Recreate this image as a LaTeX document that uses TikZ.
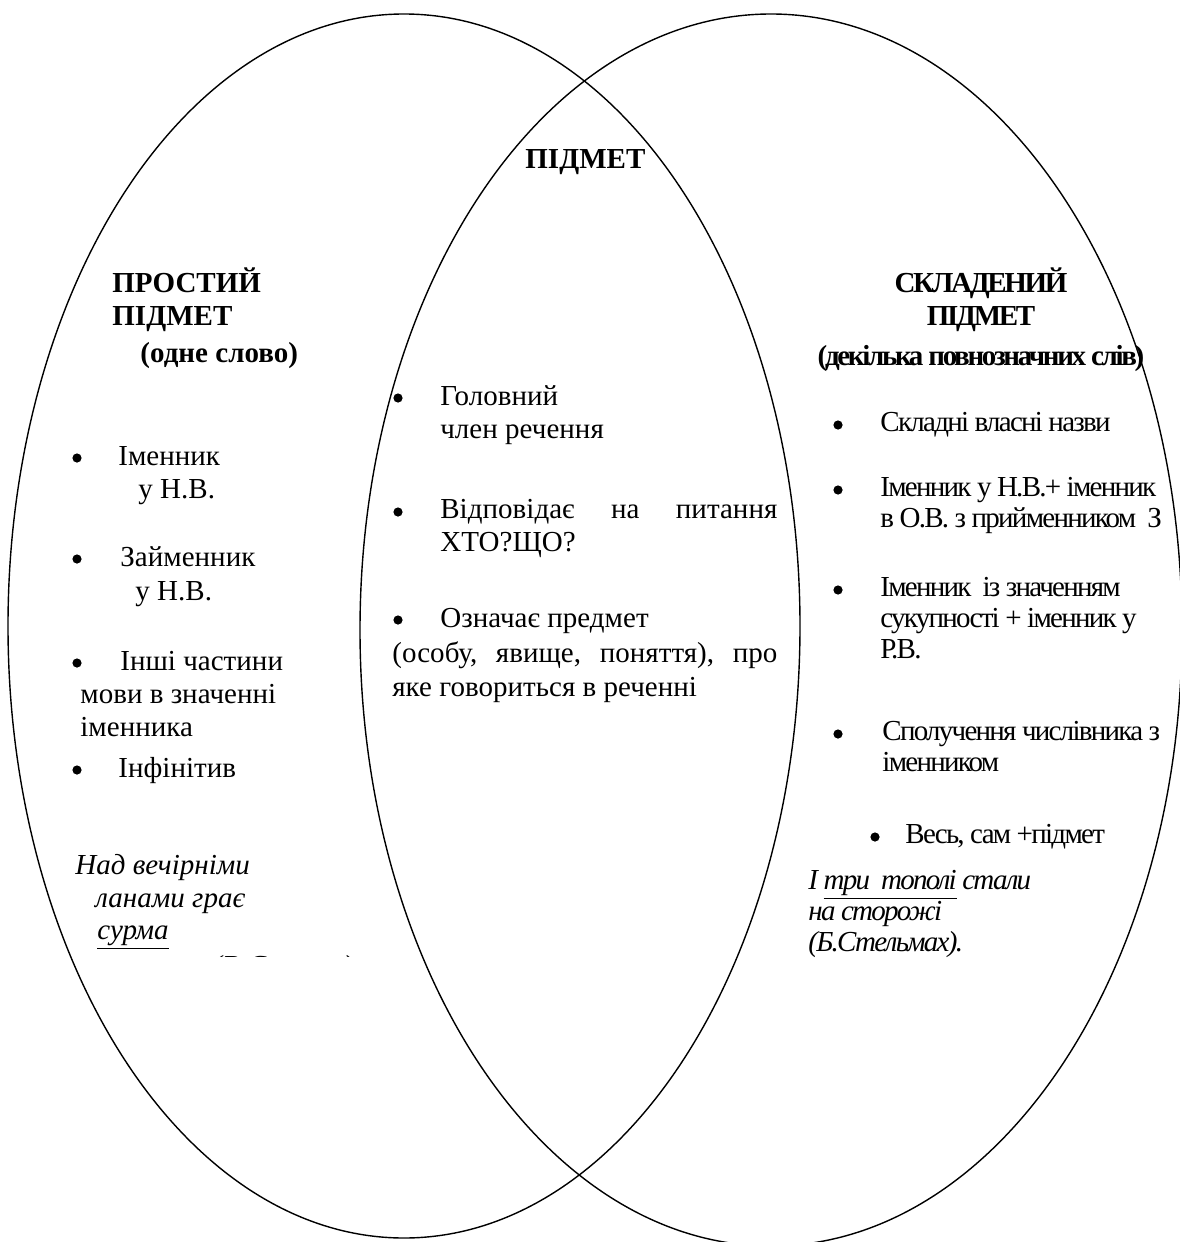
\documentclass[tikz,border=0pt]{standalone}
\usepackage{fontspec}
\setmainfont{Liberation Serif}[LetterSpace=0.1]
\newfontfamily\narrowrm[LetterSpace=-6]{Liberation Serif}
\newfontfamily\narrowbf[LetterSpace=-8]{Liberation Serif}
\usetikzlibrary{positioning,shapes.geometric}
\newcommand{\bodysize}{\fontsize{14.5}{17}\selectfont}
\tikzset{
  setoval/.style={ellipse, draw, line width=0.7pt, inner sep=0pt},
  txt/.style={anchor=base west, inner sep=0pt, font=\bodysize},
  head/.style={anchor=base west, inner sep=0pt, font=\bodysize\bfseries},
  rtxt/.style={anchor=base west, inner sep=0pt, font=\bodysize\narrowrm},
  rhead/.style={anchor=base, inner sep=0pt, font=\bodysize\narrowbf\bfseries},
  bul/.style={circle, fill, inner sep=0pt, minimum size=4.6pt},
  quote/.style={anchor=base west, inner sep=0pt, font=\bodysize\itshape},
  rquote/.style={anchor=base west, inner sep=0pt, font=\bodysize\narrowrm\itshape},
}

\begin{document}
\begin{tikzpicture}[x=0.5pt, y=-0.5pt]
  \useasboundingbox (0,0) rectangle (1179,1242);

  % the two sets
  \node[setoval, minimum width=396pt, minimum height=612pt] (simple) at (404,626) {};
  \node[setoval, minimum width=411pt, minimum height=616pt] (compound) at (771,630) {};

  % headings
  \node[head] (core) at (525,168) {ПІДМЕТ};
  \node[head] (simple1) at (112,292) {ПРОСТИЙ};
  \node[head] (simple2) at (112,325) {ПІДМЕТ};
  \node[head] (simple3) at (140,362) {(одне слово)};
  \node[rhead] (comp1) at (981,292) {СКЛАДЕНИЙ};
  \node[rhead] (comp2) at (981,325) {ПІДМЕТ};
  \node[rhead] (comp3) at (981,365) {(декілька повнозначних слів)};

  % left list
  \node[bul] (lb1) at (77,458) {};
  \node[txt] (left1) at (118,465) {Іменник};
  \node[txt] (left2) at (138,498) {у Н.В.};
  \node[bul] (lb2) at (77,559) {};
  \node[txt] (left3) at (120,566) {Займенник};
  \node[txt] (left4) at (135,600) {у Н.В.};
  \node[bul] (lb3) at (77,663) {};
  \node[txt] (left5) at (120,670) {Інші частини};
  \node[txt] (left6) at (80,703) {мови в значенні};
  \node[txt] (left7) at (80,736) {іменника};
  \node[bul] (lb4) at (77,770) {};
  \node[txt] (left8) at (118,777) {Інфінітив};
  \node[quote] (simpleq1) at (75,874) {Над вечірніми};
  \node[quote] (simpleq2) at (95,907) {ланами грає};
  \node[quote] (simpleq3) at (97,939) {\underline{сурма}};
  \begin{scope}
    \clip (150,940) rectangle (400,956);
    \node[quote] (simplesrc) at (212,975) {(В.Сосюра)};
  \end{scope}

  % middle list
  \node[bul] (mb1) at (398,398) {};
  \node[txt] (mid1) at (440,405) {Головний};
  \node[txt] (mid2) at (440,438) {член речення};
  \node[bul] (mb2) at (398,512) {};
  \node[txt] (mid3) at (440,518) {\makebox[168.5pt][s]{Відповідає на питання}};
  \node[txt] (mid4) at (440,551) {ХТО?ЩО?};
  \node[bul] (mb3) at (398,620) {};
  \node[txt] (mid5) at (440,627) {Означає предмет};
  \node[txt] (mid6) at (392,662) {\makebox[192.5pt][s]{(особу, явище, поняття), про}};
  \node[txt] (mid7) at (392,696) {яке говориться в реченні};

  % right list
  \node[bul] (rb1) at (838,425) {};
  \node[rtxt] (right1) at (880,431) {Складні власні назви};
  \node[bul] (rb2) at (838,490) {};
  \node[rtxt] (right2) at (880,496) {Іменник у Н.В.+ іменник};
  \node[rtxt] (right3) at (880,527) {в О.В. з прийменником~ З};
  \node[bul] (rb3) at (838,590) {};
  \node[rtxt] (right4) at (880,596) {Іменник~ із значенням};
  \node[rtxt] (right5) at (880,627) {сукупності + іменник у};
  \node[rtxt] (right6) at (880,658) {Р.В.};
  \node[bul] (rb4) at (838,734) {};
  \node[rtxt] (right7) at (882,740) {Сполучення числівника з};
  \node[rtxt] (right8) at (882,771) {іменником};
  \node[bul] (rb5) at (875,837) {};
  \node[rtxt] (right9) at (905,843) {Весь, сам +підмет};
  \node[rquote] (compq1) at (808,889) {І \underline{три~ тополі} стали};
  \node[rquote] (compq2) at (808,920) {на сторожі};
  \node[rquote] (compq3) at (808,951) {(Б.Стельмах).};
\end{tikzpicture}
\end{document}
